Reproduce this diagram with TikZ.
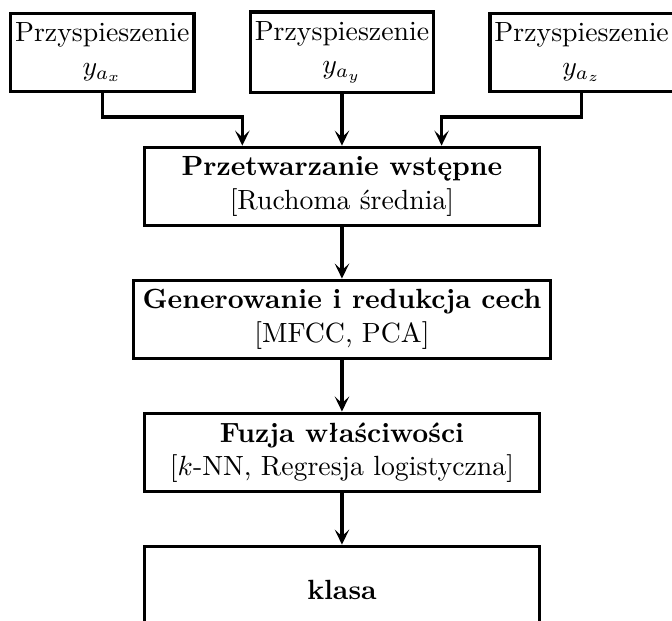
\documentclass[tikz,border=0pt]{standalone}
\usepackage{fontspec}
\usepackage{amsmath}
\usetikzlibrary{arrows.meta, positioning, calc}

\begin{document}
\begin{tikzpicture}[
  node distance=0.65cm and 0.67cm,
  sensor/.style={rectangle, draw=black, line width=1.2pt, minimum width=2.32cm, minimum height=0.99cm, align=center, inner xsep=1pt},
  stage/.style={rectangle, draw=black, line width=1.2pt, minimum width=5cm, minimum height=0.99cm, align=center},
  arrow/.style={-{Stealth[length=5.4pt, width=5.2pt, inset=2.4pt]}, line width=1.2pt}
]
\useasboundingbox (-123.1pt,-156.1pt) rectangle (118.8pt,67.1pt);

% Processing chain
\node[stage] (prep) at (0,0) {\textbf{Przetwarzanie wstępne}\\ {[}Ruchoma średnia{]}};
\node[stage, below=of prep] (feat) {\textbf{Generowanie i redukcja cech}\\ {[}MFCC, PCA{]}};
\node[stage, below=of feat] (fuse) {\textbf{Fuzja właściwości}\\ {[}$k$-NN, Regresja logistyczna{]}};
\node[stage, below=of fuse, minimum height=1.1cm] (cls) {\textbf{klasa}};

% Accelerometer inputs
\node[sensor, above=of prep] (accy) {Przyspieszenie\\ $y_{a_y}$};
\node[sensor, left=of accy] (accx) {Przyspieszenie\\ $y_{a_x}$};
\node[sensor, right=of accy] (accz) {Przyspieszenie\\ $y_{a_z}$};

% Arrows
\coordinate (inx) at ($(prep.north)!0.5!(prep.north west)$);
\coordinate (inz) at ($(prep.north)!0.5!(prep.north east)$);
\draw[arrow] (accx.south) -- ++(0,-0.3) -| (inx);
\draw[arrow] (accy) -- (prep);
\draw[arrow] (accz.south) -- ++(0,-0.3) -| (inz);
\draw[arrow] (prep) -- (feat);
\draw[arrow] (feat) -- (fuse);
\draw[arrow] (fuse) -- (cls);

\end{tikzpicture}
\end{document}
